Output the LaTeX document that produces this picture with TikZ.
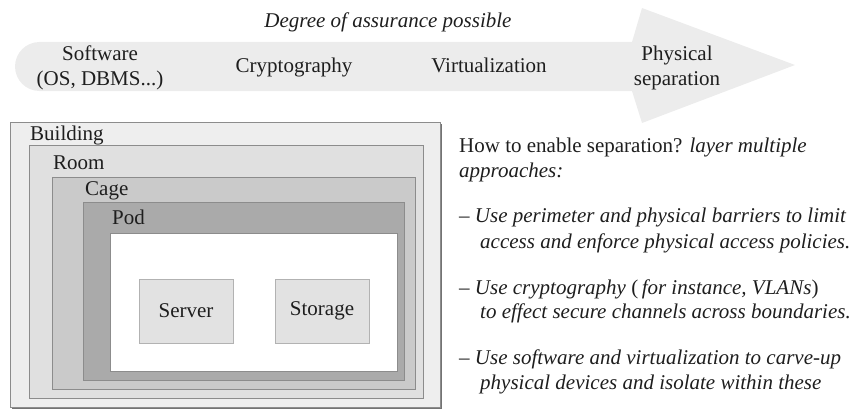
\documentclass[tikz,border=0pt]{standalone}
\usepackage{fontspec}
\setmainfont{Liberation Serif}
\definecolor{arrowgray}{HTML}{ECECEC}
\definecolor{bldfill}{HTML}{EEEEEE}
\definecolor{roomfill}{HTML}{E0E0E0}
\definecolor{cagefill}{HTML}{CACACA}
\definecolor{podfill}{HTML}{AAAAAA}
\definecolor{devfill}{HTML}{E2E2E2}
\definecolor{edgegray}{HTML}{8C8C8C}
\definecolor{txt}{HTML}{1E1E1E}
\begin{document}
\begin{tikzpicture}[x=1pt,y=-1pt,
  every node/.style={font=\fontsize{21}{25}\selectfont, inner sep=0pt, text=txt},
  zone/.style={draw=edgegray, line width=0.8pt, rectangle},
  device/.style={draw=black!30, line width=0.8pt, fill=devfill, rectangle,
     minimum width=94pt, minimum height=64pt},
  lbl/.style={anchor=base west},
  clbl/.style={anchor=base}]
\useasboundingbox (0,0) rectangle (856,412);

% ---- arrow ----
\fill[arrowgray] (632,42) -- (39.5,42) arc[start angle=270, end angle=90, radius=24.5]
   -- (632,91) -- (642,123) -- (795,65) -- (642,8) -- cycle;

\node[clbl] (deg) at (388,28) {\itshape Degree of assurance possible};
\node[clbl] (sw1) at (100,60) {Software};
\node[clbl] (sw2) at (100,85) {(OS, DBMS...)};
\node[clbl] (cry) at (294,73) {Cryptography};
\node[clbl] (vir) at (489,73) {Virtualization};
\node[clbl] (ph1) at (677,60) {Physical};
\node[clbl] (ph2) at (677,85) {separation};

% ---- nested zones ----
\fill[black!55] (12,124) rectangle (442,409);
\node[zone, fill=bldfill, minimum width=430pt, minimum height=285pt] (building) at (225,264.5) {};
\node[zone, fill=roomfill, minimum width=394pt, minimum height=253pt] (room) at (226,271.5) {};
\node[zone, fill=cagefill, minimum width=363pt, minimum height=212pt] (cage) at (233.5,283) {};
\node[zone, fill=podfill, minimum width=321pt, minimum height=178pt] (pod) at (243.5,291) {};
\node[zone, fill=white, minimum width=287pt, minimum height=138pt] (inner) at (253.5,302) {};
\node[device] (server) at (186,311) {};
\node[device] (storage) at (322,311) {};
\node (serverl) at (server.center) {Server};
\node (storagel) at (storage.center) {Storage};

\node[lbl] (bl) at (30,140) {Building};
\node[lbl] (rl) at (53,169) {Room};
\node[lbl] (cl) at (85,195) {Cage};
\node[lbl] (pl) at (112,224) {Pod};

% ---- right text ----
\node[lbl] (t1) at (459,152) {How to enable separation? \textit{layer multiple}};
\node[lbl] (t2) at (459,177) {\textit{approaches:}};
\node[lbl] (t3) at (459,222) {\textit{– Use perimeter and physical barriers to limit}};
\node[lbl] (t4) at (480,248) {\textit{access and enforce physical access policies.}};
\node[lbl] (t5) at (459,294) {\textit{– Use cryptography} (\,\textit{for instance, VLANs})};
\node[lbl] (t6) at (480,318) {\textit{to effect secure channels across boundaries.}};
\node[lbl] (t7) at (459,364) {\textit{– Use software and virtualization to carve-up}};
\node[lbl] (t8) at (480,389) {\textit{physical devices and isolate within these}};
\end{tikzpicture}
\end{document}
